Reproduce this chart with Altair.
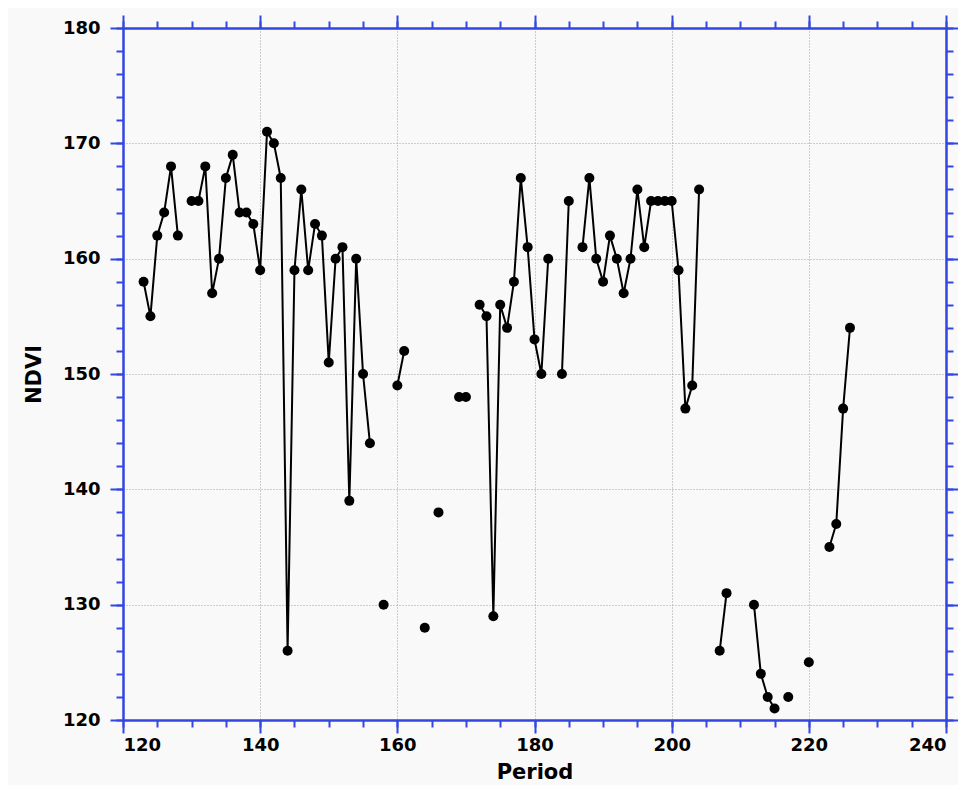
import altair as alt
import pandas as pd

# ---- data ----
period = [123, 124, 125, 126, 127, 128,
          130, 131, 132, 133, 134, 135, 136, 137, 138, 139, 140, 141, 142, 143,
          144, 145, 146, 147, 148, 149, 150, 151, 152, 153, 154, 155, 156,
          158, 160, 161, 164, 166, 169, 170,
          172, 173, 174, 175, 176, 177, 178, 179, 180, 181, 182,
          184, 185,
          187, 188, 189, 190, 191, 192, 193, 194, 195, 196, 197, 198, 199, 200,
          201, 202, 203, 204,
          207, 208, 212, 213, 214, 215, 217, 220, 223, 224, 225, 226]
ndvi = [158, 155, 162, 164, 168, 162,
        165, 165, 168, 157, 160, 167, 169, 164, 164, 163, 159, 171, 170, 167,
        126, 159, 166, 159, 163, 162, 151, 160, 161, 139, 160, 150, 144,
        130, 149, 152, 128, 138, 148, 148,
        156, 155, 129, 156, 154, 158, 167, 161, 153, 150, 160,
        150, 165,
        161, 167, 160, 158, 162, 160, 157, 160, 166, 161, 165, 165, 165, 165,
        159, 147, 149, 166,
        126, 131, 130, 124, 122, 121, 122, 125, 135, 137, 147, 154]

x_major = [120, 140, 160, 180, 200, 220, 240]
x_minor = list(range(120, 241, 5))
y_major = [120, 130, 140, 150, 160, 170, 180]
y_minor = list(range(120, 181, 2))

df = pd.DataFrame({"Period": period, "NDVI": ndvi})
# consecutive periods are joined; a missing period breaks the line
df["run"] = (df["Period"].diff().fillna(1) > 1).cumsum()

BLUE = "#3347e0"
FONT = "DejaVu Sans"

xs = alt.Scale(domain=[120, 240], nice=False, zero=False)
ys = alt.Scale(domain=[120, 180], nice=False, zero=False)


def axis(orient, values, size, labels=False, grid=False, title=None, **kw):
    return alt.Axis(
        orient=orient, values=values, tickSize=size, tickColor=BLUE, tickWidth=2,
        domainColor=BLUE, domainWidth=2, labels=labels, grid=grid, title=title,
        gridColor="#a0a0a0", gridDash=[1, 2], gridWidth=1,
        labelFont=FONT, labelFontWeight="bold", labelFontSize=18, labelColor="black",
        titleFont=FONT, titleFontWeight="bold", titleFontSize=21, titleColor="black",
        **kw)


base = alt.Chart(df)

line = base.mark_line(color="black", strokeWidth=2).encode(
    x=alt.X("Period:Q", scale=xs,
            axis=axis("bottom", x_major, 13, labels=True, grid=True, title="Period",
                      labelPadding=3, titlePadding=7)),
    y=alt.Y("NDVI:Q", scale=ys,
            axis=axis("left", y_major, 13, labels=True, grid=True, title="NDVI",
                      labelPadding=10, titlePadding=18)),
    detail="run:N",
)

pts = base.mark_circle(color="black", size=100, opacity=1).encode(
    x=alt.X("Period:Q", scale=xs, axis=axis("top", x_major, 13)),
    y=alt.Y("NDVI:Q", scale=ys, axis=axis("right", y_major, 13)),
)

minor1 = base.mark_circle(opacity=0).encode(
    x=alt.X("Period:Q", scale=xs, axis=axis("bottom", x_minor, 7)),
    y=alt.Y("NDVI:Q", scale=ys, axis=axis("left", y_minor, 7)),
)

minor2 = base.mark_circle(opacity=0).encode(
    x=alt.X("Period:Q", scale=xs, axis=axis("top", x_minor, 7)),
    y=alt.Y("NDVI:Q", scale=ys, axis=axis("right", y_minor, 7)),
)

chart = (
    alt.layer(minor1, minor2, line, pts)
    .resolve_axis(x="independent", y="independent")
    .properties(
        width=823, height=692,
        autosize=alt.AutoSizeParams(type="none"),
        padding={"left": 115, "top": 20, "right": 12, "bottom": 65},
        background="#f9f9f9",
    )
    .configure_view(strokeWidth=0)
)

chart.save("out.html", embed_options={"renderer": "svg", "actions": False})
